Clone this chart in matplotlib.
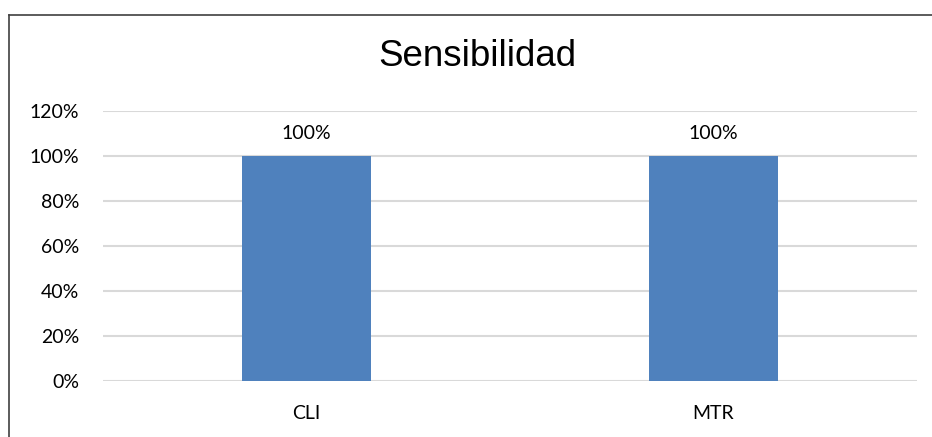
import matplotlib
matplotlib.use("Agg")
import matplotlib.pyplot as plt
from matplotlib.lines import Line2D
from matplotlib.ticker import FuncFormatter

categories = ["CLI", "MTR"]
values = [1.0, 1.0]
yticks = [0, 0.2, 0.4, 0.6, 0.8, 1.0, 1.2]
title = "Sensibilidad"

W, H = 932, 437
fig = plt.figure(figsize=(W / 100, H / 100), dpi=100)
fig.patch.set_facecolor("white")

# chart border (only left and top visible)
bx, by = 8.5 / W, 1 - 14.5 / H
fig.lines.append(Line2D([bx, 1.01], [by, by], transform=fig.transFigure,
                        color="#404040", linewidth=1.2))
fig.lines.append(Line2D([bx, bx], [by, -0.01], transform=fig.transFigure,
                        color="#404040", linewidth=1.2))

ax = fig.add_axes([103 / W, 1 - 381 / H, (917 - 103) / W, (381 - 111) / H])
x = list(range(len(categories)))
bars = ax.bar(x, values, width=0.315, color="#4f81bd", zorder=3)
ax.set_xlim(-0.5, len(categories) - 0.5)
ax.set_ylim(0, 1.2)
ax.set_yticks(yticks)
ax.yaxis.set_major_formatter(FuncFormatter(lambda v, p: f"{v*100:.0f}%"))
ax.set_xticks(x)
ax.set_xticklabels(categories)
ax.grid(axis="y", color="#d9d9d9", linewidth=1.5, zorder=0)
ax.set_axisbelow(True)
for s in ax.spines.values():
    s.set_visible(False)
ax.tick_params(axis="y", length=0, pad=17, labelsize=14, labelcolor="#000000")
ax.tick_params(axis="x", length=0, pad=17, labelsize=14, labelcolor="#000000")
for lab in ax.get_xticklabels() + ax.get_yticklabels():
    lab.set_family("Lato")

for xi, v in zip(x, values):
    ax.annotate(f"{v*100:.0f}%", (xi, v), xytext=(0, 16), textcoords="offset points",
                ha="center", va="center", fontsize=14, family="Lato", color="#000000")

fig.text(477 / W, 1 - 57 / H, title, ha="center", va="center",
         fontsize=26.5, family="Liberation Sans", color="#000000")

fig.savefig("out.png", dpi=100)
